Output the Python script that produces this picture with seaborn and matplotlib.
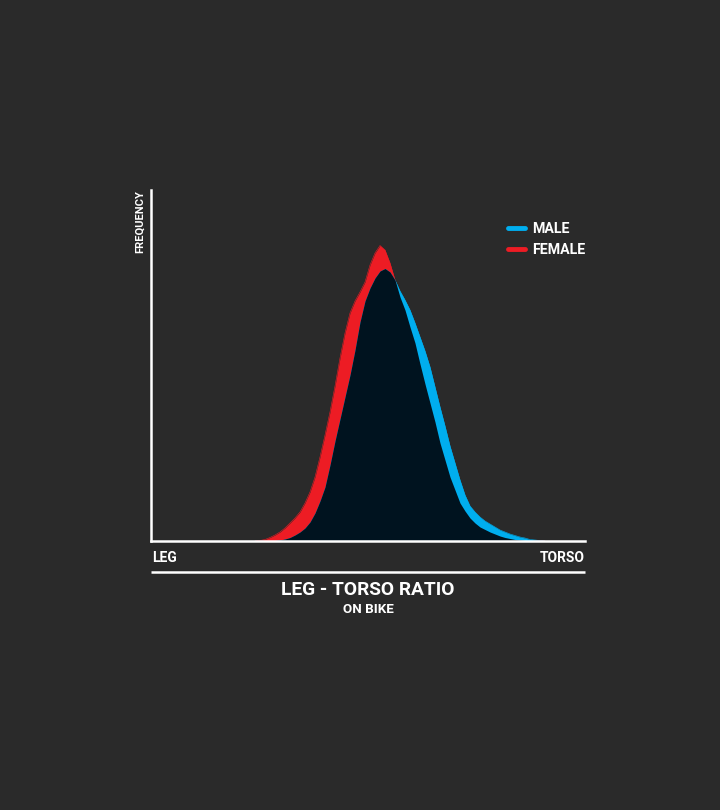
import numpy as np
import pandas as pd
import matplotlib
matplotlib.use("Agg")
import matplotlib.pyplot as plt
import seaborn as sns
from matplotlib.lines import Line2D

# ---- data (x = leg/torso ratio position, y = frequency) ----
ratio = [104, 109, 114, 119, 124, 129, 134, 139, 144, 149,
         154, 159, 164, 169, 174, 179, 184, 189, 194, 199,
         204, 209, 214, 219, 224, 229, 234, 239, 244, 249,
         254, 259, 264, 269, 274, 279, 284, 289, 294, 299,
         304, 309, 314, 319, 324, 329, 334, 339, 344, 349,
         354, 359, 364, 369, 374, 379, 384, 389, 394]
female = [0, 0.5, 1.5, 3.5, 6, 9, 13, 18, 23, 29,
          38, 49, 64, 84, 106, 129, 155, 183, 208, 228,
          240, 249, 259, 276, 288, 295.5, 291, 278, 261, 244,
          231, 214, 198, 177, 157, 138, 119, 98, 81, 64,
          51, 38, 30, 23, 18, 14, 11.5, 9, 7, 5,
          3.5, 2.5, 1.5, 1, 0.5, 0, 0, 0, 0]
male = [0, 0, 0, 0, 0.5, 1, 2, 3.5, 6, 9,
        13, 19, 28, 40, 54, 76, 100, 122, 144, 166,
        191, 219, 240, 253, 263, 270, 272.5, 269, 261, 250,
        241, 231, 218, 204, 190, 174, 154, 134, 115, 95,
        78, 61, 46, 35, 29, 24, 20, 17, 14, 11,
        9, 7, 5.5, 4, 3, 1.5, 1, 0.5, 0]
series = ["MALE", "FEMALE"]
x_labels = ["LEG", "TORSO"]
title = "LEG - TORSO RATIO"
subtitle = "ON BIKE"
y_label = "FREQUENCY"

BG = "#2a2a2a"
RED = "#ed1c24"
BLUE = "#00aeef"
NAVY = "#00131f"
WHITE = "#ffffff"

sns.set_style("white", {"axes.facecolor": BG, "figure.facecolor": BG})
plt.rcParams["font.family"] = ["Roboto", "DejaVu Sans"]

df = pd.DataFrame({"ratio": ratio * 2,
                   "freq": male + female,
                   "sex": [series[0]] * len(male) + [series[1]] * len(female)})

fig = plt.figure(figsize=(7.2, 8.1), dpi=100, facecolor=BG)
ax = fig.add_axes([151 / 720, 269 / 810, 434 / 720, 351 / 810])
ax.set_facecolor(BG)

# outlines via seaborn (kept beneath the fills, only the outer half shows)
sns.lineplot(data=df, x="ratio", y="freq", hue="sex",
             palette={series[0]: BLUE, series[1]: RED},
             linewidth=0.4, legend=False, ax=ax, zorder=1)

x = np.array(ratio)
f = np.array(female)
m = np.array(male)
ax.fill_between(x, 0, f, color=RED, lw=0, zorder=2)
ax.fill_between(x, 0, m, color=BLUE, lw=0, zorder=2)
ax.fill_between(x, 0, np.minimum(f, m), color=NAVY, lw=0, zorder=3)

ax.set_xlim(0, 434)
ax.set_ylim(0, 351)
ax.set_xticks([])
ax.set_yticks([])
ax.set_xlabel("")
ax.set_ylabel("")
for s in ["top", "right"]:
    ax.spines[s].set_visible(False)
for s in ["left", "bottom"]:
    ax.spines[s].set_color(WHITE)
    ax.spines[s].set_linewidth(1.8)
    ax.spines[s].set_zorder(5)

# second rule under the x labels
ax.plot([0, 1], [-0.0883, -0.0883], transform=ax.transAxes, color=WHITE,
        lw=1.8, clip_on=False, solid_capstyle="butt")

ax.text(0.002, -0.048, x_labels[0], transform=ax.transAxes, color=WHITE,
        fontsize=10, fontweight="bold", ha="left", va="center")
ax.text(1.0, -0.048, x_labels[1], transform=ax.transAxes, color=WHITE,
        fontsize=10, fontweight="bold", ha="right", va="center")
ax.text(0.5, -0.139, title, transform=ax.transAxes, color=WHITE,
        fontsize=13.8, fontweight="bold", ha="center", va="center")
ax.text(0.5, -0.196, subtitle, transform=ax.transAxes, color=WHITE,
        fontsize=9.6, fontweight="bold", ha="center", va="center")
ax.text(-0.026, 1.0, y_label, transform=ax.transAxes, color=WHITE,
        fontsize=8, fontweight="bold", ha="center", va="top", rotation=90)

handles = [Line2D([0], [0], color=BLUE, lw=3.5, solid_capstyle="round"),
           Line2D([0], [0], color=RED, lw=3.5, solid_capstyle="round")]
leg = ax.legend(handles, series, loc="upper left",
                bbox_to_anchor=((508 - 151) / 434, (541 - 222) / 351),
                frameon=False, fontsize=10.2, handlelength=1.2,
                handletextpad=0.5, labelspacing=0.5, borderpad=0,
                borderaxespad=0)
for t in leg.get_texts():
    t.set_color(WHITE)
    t.set_fontweight("bold")

fig.savefig("out.png", dpi=100, facecolor=BG)
